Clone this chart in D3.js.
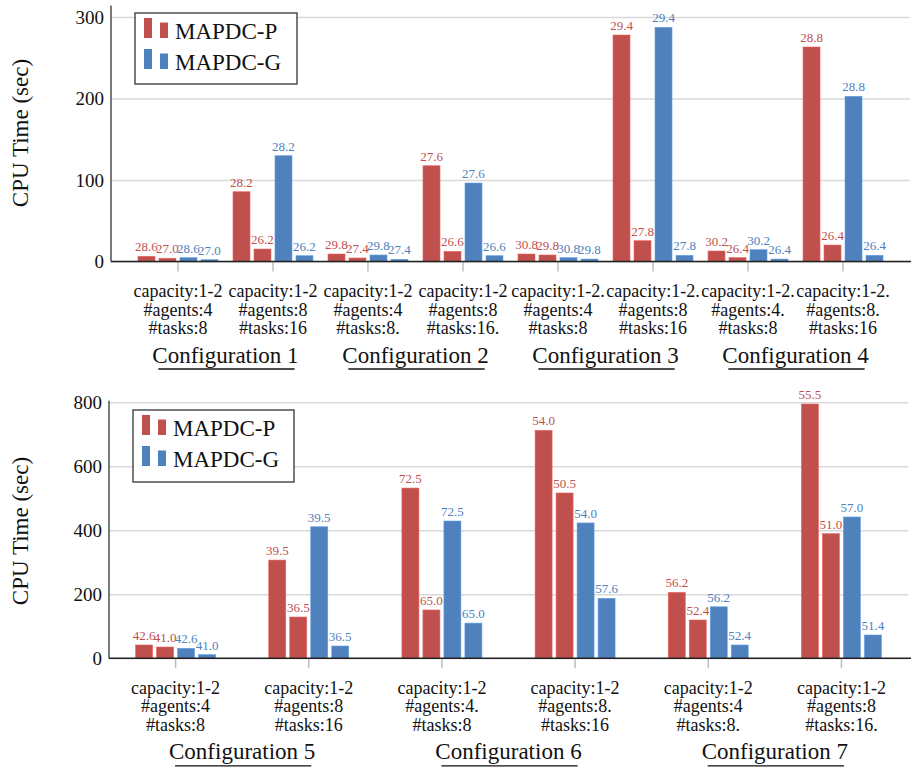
<!DOCTYPE html>
<html>
<head>
    <meta charset="utf-8">
    <script src="https://cdn.jsdelivr.net/npm/d3@7"></script>
    <style>
        body { margin: 0; background: #fff; }
        svg { display: block; }
        svg text { font-family: "Liberation Serif", "Times New Roman", serif !important; }
    </style>
</head>
<body>
<script>
    // ---- top panel (configurations 1-4) ----
    var topTicks = [0, 100, 200, 300];
    var topGroups = [
        ["capacity:1-2", "#agents:4", "#tasks:8"],
        ["capacity:1-2", "#agents:8", "#tasks:16"],
        ["capacity:1-2", "#agents:4", "#tasks:8."],
        ["capacity:1-2", "#agents:8", "#tasks:16."],
        ["capacity:1-2.", "#agents:4", "#tasks:8"],
        ["capacity:1-2.", "#agents:8", "#tasks:16"],
        ["capacity:1-2.", "#agents:4.", "#tasks:8"],
        ["capacity:1-2.", "#agents:8.", "#tasks:16"]
    ];
    var topConfigs = ["Configuration 1", "Configuration 2", "Configuration 3", "Configuration 4"];
    var topP1 = [6.4, 85.6, 9.2, 117.5, 9.2, 277.9, 12.9, 263.2];
    var topP2 = [4.0, 15.3, 4.3, 12.5, 8.0, 25.5, 4.7, 20.2];
    var topG1 = [4.7, 129.8, 8.0, 96.3, 4.7, 287.3, 14.5, 202.7];
    var topG2 = [2.2, 7.1, 2.7, 7.1, 3.0, 7.6, 3.0, 7.6];
    var topLblP1 = ["28.6", "28.2", "29.8", "27.6", "30.8", "29.4", "30.2", "28.8"];
    var topLblP2 = ["27.0", "26.2", "27.4", "26.6", "29.8", "27.8", "26.4", "26.4"];
    var topLblG1 = ["28.6", "28.2", "29.8", "27.6", "30.8", "29.4", "30.2", "28.8"];
    var topLblG2 = ["27.0", "26.2", "27.4", "26.6", "29.8", "27.8", "26.4", "26.4"];

    // ---- bottom panel (configurations 5-7) ----
    var botTicks = [0, 200, 400, 600, 800];
    var botGroups = [
        ["capacity:1-2", "#agents:4", "#tasks:8"],
        ["capacity:1-2", "#agents:8", "#tasks:16"],
        ["capacity:1-2", "#agents:4.", "#tasks:8"],
        ["capacity:1-2", "#agents:8.", "#tasks:16"],
        ["capacity:1-2", "#agents:4", "#tasks:8."],
        ["capacity:1-2", "#agents:8", "#tasks:16."]
    ];
    var botConfigs = ["Configuration 5", "Configuration 6", "Configuration 7"];
    var botP1 = [41.6, 307, 532, 712.5, 206, 794.7];
    var botP2 = [35.3, 129, 151, 516.6, 119.7, 389.5];
    var botG1 = [31.2, 411, 429, 423, 161, 441.6];
    var botG2 = [11.5, 38.4, 110, 187.5, 41.6, 72.8];
    var botLblP1 = ["42.6", "39.5", "72.5", "54.0", "56.2", "55.5"];
    var botLblP2 = ["41.0", "36.5", "65.0", "50.5", "52.4", "51.0"];
    var botLblG1 = ["42.6", "39.5", "72.5", "54.0", "56.2", "57.0"];
    var botLblG2 = ["41.0", "36.5", "65.0", "57.6", "52.4", "51.4"];

    var RED = "#c0504d", BLUE = "#4f81bd";
    var SERIF = "Liberation Serif";

    var svg = d3.select("body").append("svg")
            .attr("width", 911)
            .attr("height", 769)
            .attr("font-family", SERIF);

    function drawPanel(opt) {
        var g = svg.append("g").attr("font-family", SERIF);
        var n = opt.groups.length;
        var x = d3.scaleBand().domain(d3.range(n))
                .range([opt.left, opt.right]).paddingInner(0).paddingOuter(opt.padOuter);
        var y = d3.scaleLinear().domain([0, opt.max]).range([opt.bottom, opt.top]);
        var inner = d3.scaleBand().domain(["p1", "p2", "g1", "g2"])
                .range([-40, 40]).paddingInner(0.19).paddingOuter(0);

        // gridlines + tick labels
        var yAxis = g.append("g")
                .attr("transform", "translate(" + opt.left + ",0)")
                .call(d3.axisLeft(y).tickValues(opt.ticks).tickSize(-(opt.right - opt.left)).tickPadding(7))
                .attr("font-family", SERIF);
        yAxis.select(".domain").remove();
        yAxis.selectAll(".tick line").attr("stroke", "#d9d9d9").attr("stroke-width", 1.5);
        yAxis.selectAll(".tick text").attr("font-size", 19).attr("fill", "#111");

        // y axis line
        g.append("line")
                .attr("x1", opt.left).attr("x2", opt.left)
                .attr("y1", y(opt.axisTop)).attr("y2", opt.bottom)
                .attr("stroke", "#222").attr("stroke-width", 1.2);

        // bars
        var series = [
            {key: "p1", vals: opt.p1, lbl: opt.lp1, color: RED},
            {key: "p2", vals: opt.p2, lbl: opt.lp2, color: RED},
            {key: "g1", vals: opt.g1, lbl: opt.lg1, color: BLUE},
            {key: "g2", vals: opt.g2, lbl: opt.lg2, color: BLUE}
        ];
        series.forEach(function (s) {
            var cells = d3.range(n).map(function (i) {
                return {i: i, v: s.vals[i], t: s.lbl[i]};
            });
            g.selectAll("rect." + s.key).data(cells).enter().append("rect")
                    .attr("class", s.key)
                    .attr("x", function (d) { return x(d.i) + x.bandwidth() / 2 + inner(s.key); })
                    .attr("width", inner.bandwidth())
                    .attr("y", function (d) { return y(d.v); })
                    .attr("height", function (d) { return opt.bottom - y(d.v); })
                    .attr("fill", s.color)
                    .attr("stroke", d3.color(s.color).brighter(0.6))
                    .attr("stroke-width", 0.6);
            g.selectAll("text." + s.key).data(cells).enter().append("text")
                    .attr("class", s.key)
                    .attr("x", function (d) { return x(d.i) + x.bandwidth() / 2 + inner(s.key) + inner.bandwidth() / 2; })
                    .attr("y", function (d) { return y(d.v) - 5; })
                    .attr("text-anchor", "middle")
                    .attr("font-size", 13)
                    .attr("fill", s.color)
                    .text(function (d) { return d.t; });
        });

        // x axis
        var xAxis = g.append("g")
                .attr("transform", "translate(0," + opt.bottom + ")")
                .call(d3.axisBottom(x).tickSize(10).tickFormat(""));
        xAxis.select(".domain").remove();
        xAxis.selectAll(".tick line").attr("stroke", "#bfbfbf").attr("stroke-width", 1.5);
        g.append("line")
                .attr("x1", opt.left).attr("x2", 911)
                .attr("y1", opt.bottom).attr("y2", opt.bottom)
                .attr("stroke", "#222").attr("stroke-width", 1.5);

        var lab = g.selectAll("text.xl").data(opt.groups).enter().append("text")
                .attr("class", "xl")
                .attr("text-anchor", "middle")
                .attr("font-size", 18)
                .attr("fill", "#111");
        lab.each(function (lines, i) {
            var t = d3.select(this);
            lines.forEach(function (line, k) {
                t.append("tspan")
                        .attr("x", x(i) + x.bandwidth() / 2)
                        .attr("y", opt.bottom + 35.5 + k * 18.5)
                        .text(line);
            });
        });

        // configuration headings, one per pair of groups
        opt.configs.forEach(function (c, j) {
            var cx = (x(2 * j) + x(2 * j + 1)) / 2 + x.bandwidth() / 2;
            var txt = g.append("text")
                    .attr("x", cx)
                    .attr("y", opt.bottom + 101)
                    .attr("text-anchor", "middle")
                    .attr("font-size", 23)
                    .attr("fill", "#111")
                    .text(c);
            var w = txt.node().getComputedTextLength();
            g.append("line")
                    .attr("x1", cx - w / 2 + 6).attr("x2", cx + w / 2 - 4)
                    .attr("y1", opt.bottom + 107.5).attr("y2", opt.bottom + 107.5)
                    .attr("stroke", "#111").attr("stroke-width", 1.3);
        });

        // y title
        g.append("text")
                .attr("transform", "translate(28," + opt.titleY + ") rotate(-90)")
                .attr("text-anchor", "middle")
                .attr("font-size", 23)
                .attr("fill", "#111")
                .text("CPU Time (sec)");

        // legend
        var L = opt.legend;
        var lg = g.append("g").attr("transform", "translate(" + L.x + "," + L.y + ")");
        lg.append("rect")
                .attr("width", L.w).attr("height", L.h)
                .attr("fill", "#fff").attr("stroke", "#333").attr("stroke-width", 1.3);
        [{name: "MAPDC-P", color: RED}, {name: "MAPDC-G", color: BLUE}].forEach(function (e, k) {
            var base = 25 + k * 31;
            lg.append("rect").attr("x", 9).attr("y", base - 20).attr("width", 8).attr("height", 20).attr("fill", e.color);
            lg.append("rect").attr("x", 25).attr("y", base - 15.5).attr("width", 8).attr("height", 15.5).attr("fill", e.color);
            lg.append("text").attr("x", 40).attr("y", base + 1)
                    .attr("font-size", 23).attr("fill", "#111").text(e.name);
        });
    }

    drawPanel({
        groups: topGroups, configs: topConfigs, ticks: topTicks,
        p1: topP1, p2: topP2, g1: topG1, g2: topG2,
        lp1: topLblP1, lp2: topLblP2, lg1: topLblG1, lg2: topLblG2,
        left: 111, right: 910, padOuter: 0.205,
        top: 17, bottom: 261.5, max: 300, axisTop: 314,
        titleY: 133,
        legend: {x: 135, y: 13, w: 162, h: 71}
    });

    drawPanel({
        groups: botGroups, configs: botConfigs, ticks: botTicks,
        p1: botP1, p2: botP2, g1: botG1, g2: botG2,
        lp1: botLblP1, lp2: botLblP2, lg1: botLblG1, lg2: botLblG2,
        left: 109, right: 908, padOuter: 0,
        top: 402.3, bottom: 658.3, max: 800, axisTop: 805,
        titleY: 531,
        legend: {x: 133, y: 410, w: 161, h: 72}
    });
</script>
</body>
</html>
